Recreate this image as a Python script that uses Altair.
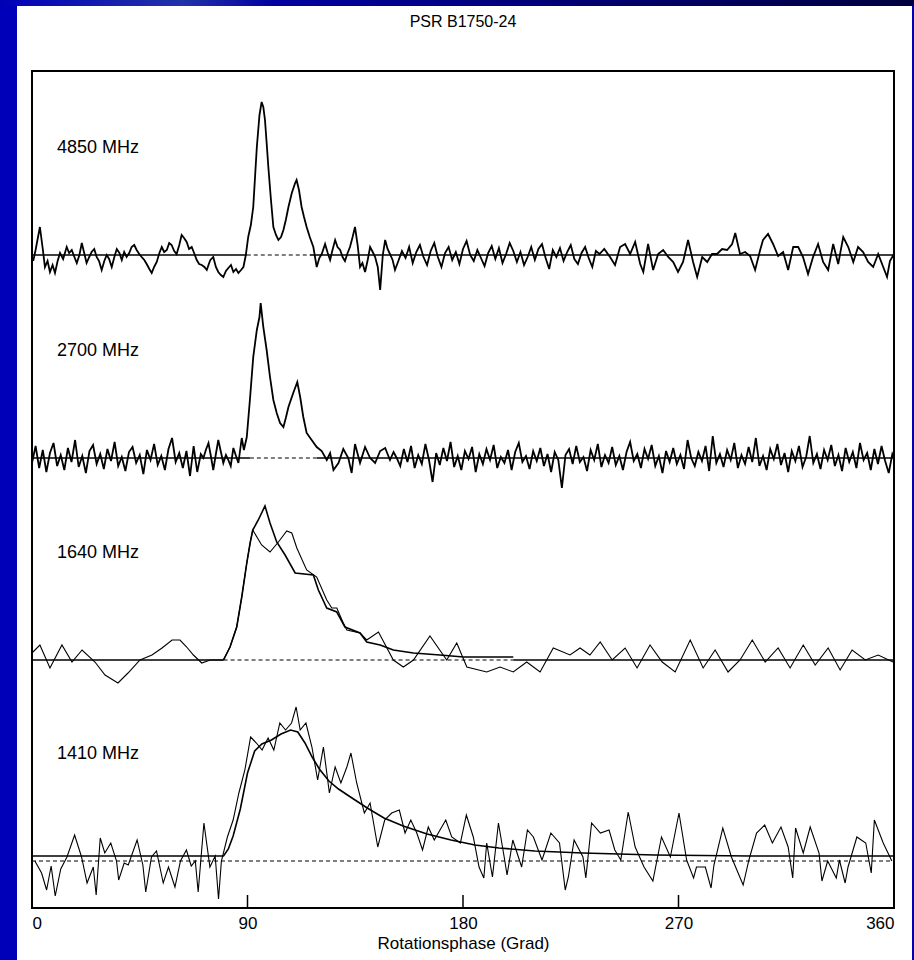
import altair as alt
import pandas as pd

# plot area size in pixels
W, H = 862, 837

# Pulse profiles of PSR B1750-24: (rotation phase in degrees, flux in arbitrary units)
profile_4850 = [
    (0.5, -6), (1.5, 5), (3.3, 28), (4.5, 6), (5.4, -12), (6.5, -6), (7.5, -17), (8.6, -10), (9.6, -18),
    (10.7, -6), (11.7, 2), (13, -4), (14.5, 8), (15.5, 2), (16.6, 5), (17.7, -2), (18.7, -8), (19.8, 0),
    (20.8, 12), (21.8, 2), (22.8, -8), (23.9, -2), (24.9, 3), (26, 6), (27, -2), (28, -6), (29.1, -15),
    (30.2, -6), (31.2, 0), (32.2, -4), (33.3, -12), (34.4, -2), (35.4, 6), (36.5, 2), (37.5, -5), (38.5, 3),
    (39.5, -2), (40.6, 2), (41.6, 8), (42.7, 10), (43.7, 5), (44.8, 1), (45.8, -2), (46.9, -5), (47.9, -9),
    (49, -14), (50, -18), (51, -12), (52.1, -7), (53.2, 2), (54.2, 8), (55.2, 3), (56.3, 5), (57.3, 12),
    (58.3, 10), (59.4, 4), (60.4, 1), (61.5, 10), (62.5, 20), (63.5, 17), (64.6, 13), (65.6, 6), (66.7, 8),
    (67.7, 2), (68.8, -5), (69.8, -9), (70.9, -10), (72, -12), (73, -15), (74, -8), (74.5, -5), (75.7, -2),
    (76.8, -12), (77.8, -17), (78.9, -20), (79.9, -22), (81, -16), (82, -13), (83.1, -10), (84.1, -17),
    (85.2, -14), (86.2, -18), (87.3, -15), (88.3, -12), (89.3, 0), (90.3, 18), (91.4, 30), (92.4, 48),
    (93.2, 80), (93.9, 108), (95, 140), (95.9, 153), (96.6, 148), (97.3, 135), (98, 112), (98.7, 88),
    (99.8, 55), (100.8, 28), (101.9, 20), (102.9, 15), (104, 18), (105, 25), (106, 35), (107.1, 48),
    (108.5, 62), (109.9, 72), (110.5, 75), (111.5, 65), (112.6, 48), (113.6, 38), (114.7, 28), (116, 18),
    (117.5, 8), (118.9, -12), (120, -3), (121, 1), (122.4, 11), (123.5, 2), (124.5, -5), (125.5, 5),
    (126.6, 15), (127.6, 8), (128.7, 5), (129.7, -2), (130.7, -6), (131.8, 2), (132.8, 8), (133.9, 18),
    (134.9, 28), (136, 10), (137, -12), (138, -8), (139.1, -17), (140.2, -5), (141.2, 8), (142.3, 3),
    (143.3, -2), (144.4, -12), (145.4, -35), (146.5, 0), (147.5, 15), (148.5, 6), (149.5, 1), (150.6, -5),
    (151.6, -15), (153, -6), (154.5, 4), (156, -3), (157.5, 8), (159, -8), (160.5, 3), (162, 10),
    (163.5, -2), (165, -10), (166.5, 4), (168, 12), (169.5, -2), (171, -12), (172.5, 2), (174, 8),
    (175.5, -5), (177, 3), (178.5, -9), (180, 6), (181.5, 14), (183, 0), (184.5, -6), (186, 5), (187.5, -3),
    (189, -11), (190.5, 2), (192, 9), (193.5, -4), (195, 7), (196.5, -8), (198, 1), (199.5, 12), (201, 4),
    (202.5, -7), (204, 3), (205.5, -10), (207, -2), (208.5, 8), (210, -5), (211.5, 6), (213, 11),
    (214.5, -3), (216, -14), (217.5, 5), (219, -2), (220.5, 7), (222, -6), (223.5, 3), (225, 10),
    (226.5, -4), (228, -9), (229.5, 2), (231, 8), (232.5, -3), (234, -12), (235.5, 4), (237, 1), (239, 6),
    (241.4, -2), (243.5, -10), (245.6, 8), (247.7, 11), (249.8, 1), (251.9, 13), (254, -9), (255.3, -17),
    (257.3, 11), (259.4, -15), (261.5, 1), (263.6, 5), (265.7, -2), (267.8, -7), (269.8, -17), (271.9, -7),
    (274, 15), (276.1, -7), (277.8, -22), (279.9, -2), (282, -7), (284, 1), (286.1, 1), (288.2, 6),
    (290.3, 5), (292.4, 11), (293.7, 22), (295.7, 1), (297.8, 3), (299.9, -1), (302, -15), (304.1, 5),
    (305.3, 15), (307.4, 21), (309.5, 11), (311.6, -1), (313.7, 3), (315.8, -15), (317.9, 8), (320, 8),
    (322, -2), (324.1, -19), (326.2, -2), (328.3, 11), (330.4, -7), (332.5, -15), (334.6, 11), (336.7, -9),
    (338.8, 18), (340.9, 8), (343, -7), (345, 8), (347.1, 3), (349.2, -7), (351.3, -12), (353.4, 1),
    (355.5, -12), (357.1, -22), (358.3, -6), (360, 1),
]

profile_2700 = [
    (0, -5), (1.5, 12), (3, -10), (4.5, 8), (6, -14), (7.5, 5), (9, 15), (10.5, -8), (12, 3), (13.5, -12),
    (15, 10), (16.5, -4), (18, 18), (19.5, -9), (21, 2), (22.5, -15), (24, 7), (25.5, 13), (27, -6),
    (28.5, 4), (30, -11), (31.5, 9), (33, -3), (34.5, 16), (36, -8), (37.5, 1), (39, -13), (40.5, 6),
    (42, 11), (43.5, -5), (45, 3), (46.5, -16), (48, 8), (49.5, -2), (51, 14), (52.5, -7), (54, 2),
    (55.5, -12), (57, 9), (58.5, 20), (60, -4), (61.5, 5), (63, -10), (64.5, 7), (66, -18), (67.5, 12),
    (69, -14), (70.5, 4), (71.6, 0), (72.6, 8), (73.7, 15), (74.7, 2), (75.7, -12), (76.8, 4), (77.8, 18),
    (78.9, 6), (79.9, -5), (81, 3), (82, -2), (83, -8), (84.1, 10), (85.2, 2), (86.2, -5), (87.6, 20),
    (88.5, 8), (89.7, 21), (91, 58), (92.4, 101), (93.9, 128), (95, 141), (95.5, 155), (96.6, 131),
    (98, 108), (99.4, 81), (100.8, 58), (102.2, 45), (103.6, 35), (105, 31), (106, 40), (107.1, 51),
    (109.1, 65), (110.8, 76), (112, 61), (113.3, 41), (114.7, 25), (116.8, 18), (118.9, 11), (121, 7),
    (123.1, -2), (124.5, 5), (125.9, -12), (128, -5), (130, 9), (132.1, 0), (133.5, -15), (134.9, 14),
    (137, -5), (139.1, 11), (141.2, 0), (143.3, -5), (145.4, 7), (147.5, 10), (149.5, -2), (151, 6),
    (152.3, 0), (153.8, -8), (155.3, 9), (156.8, -4), (158.3, 12), (159.8, -10), (161.3, 3), (162.8, -6),
    (164.3, 14), (165.8, -2), (167.3, -24), (168.8, 5), (170.3, -7), (171.8, 10), (173.3, -3), (174.8, 16),
    (176.3, -9), (177.8, 2), (179.3, -12), (180.8, 7), (182.3, -1), (183.8, 11), (185.3, -14), (186.8, 4),
    (188.3, -6), (189.8, 9), (191.3, -2), (192.8, 13), (194.3, -10), (195.8, 1), (197.3, -5), (198.8, 8),
    (200.3, -12), (201.8, 6), (203.3, 15), (204.8, -4), (206.3, 2), (207.8, -11), (209.3, 7), (210.8, -3),
    (212.3, 10), (213.8, -8), (215.3, 4), (216.8, -14), (218.3, 6), (219.8, -2), (221.3, -30), (222.8, 3),
    (224.3, 9), (225.8, -6), (227.3, 12), (228.8, -4), (230.3, 1), (231.8, -13), (233.3, 8), (234.8, -2),
    (236.3, 14), (237.8, -9), (239.3, 3), (240.8, -5), (242.3, 11), (243.8, -7), (245.3, 2), (246.8, -12),
    (248.3, 6), (249.8, 16), (251.3, -3), (252.8, 4), (254.3, -10), (255.8, 9), (257.3, -1), (258.8, 13),
    (260.3, -8), (261.8, 2), (263.3, -15), (264.8, 7), (266.3, -4), (267.8, 10), (269.3, -6), (270.8, 3),
    (272.3, -11), (273.8, 18), (275.3, 0), (276.8, -8), (278.3, 6), (279.8, -3), (281.3, 12), (282.8, -13),
    (284.3, 22), (285.8, -5), (287.3, 4), (288.8, -9), (290.3, 8), (291.8, -2), (293.3, 15), (294.8, -10),
    (296.3, 3), (297.8, -6), (299.3, 11), (300.8, -4), (302.3, 20), (303.8, -8), (305.3, 2), (306.8, -12),
    (308.3, 9), (309.8, -1), (311.3, 14), (312.8, -7), (314.3, 5), (315.8, -14), (317.3, 7), (318.8, -3),
    (320.3, 12), (321.8, -9), (323.3, 1), (324.8, 22), (326.3, -5), (327.8, 4), (329.3, -11), (330.8, 8),
    (332.3, -2), (333.8, 13), (335.3, -8), (336.8, 3), (338.3, -13), (339.8, 10), (341.3, -4), (342.8, 6),
    (344.3, -10), (345.8, 15), (347.3, -2), (348.8, 5), (350.3, -12), (351.8, 9), (353.3, -6), (354.8, 12),
    (356.3, -3), (357.8, -15), (359.3, 4), (360, 0),
]

profile_1640 = [
    (0.4, 8), (3.3, 15), (7.5, -8), (12.5, 15), (16.7, -2), (20.9, 10), (26.3, -2), (30.5, -15),
    (35.9, -23), (40.1, -13), (45.1, 0), (50.1, 5), (54.3, 12), (58.5, 20), (61.8, 20), (64.6, 13),
    (67.4, 5), (70.9, -3), (74.4, 0), (79.9, 0), (82.7, 13), (85.5, 33), (87.6, 63), (89.7, 97),
    (91.1, 117), (92.2, 130), (95.9, 115), (99.4, 108), (102.9, 118), (106.4, 129), (108.5, 127),
    (110.6, 112), (114.7, 90), (118.9, 83), (123.1, 60), (125.2, 52), (127.3, 52), (130, 37), (131.5, 30),
    (137, 27), (139.8, 20), (144.7, 28), (150.9, 0), (155.1, -7), (159.3, 0), (166.2, 24), (173.2, 0),
    (177.4, 17), (181.6, -7), (189.9, -12), (195.5, -7), (201, -12), (206.6, -2), (212.2, -12),
    (217.7, 12), (224.7, 5), (228.9, 12), (233, 5), (237.3, 18), (242.3, 0), (247.7, 12), (252.7, -8),
    (258.1, 15), (263.2, -2), (268.6, -12), (274.9, 20), (280.3, -8), (285.3, 10), (290.7, -12),
    (295.7, 0), (300.8, 20), (306.2, -2), (311.6, 12), (316.6, -8), (322.1, 15), (327.1, -5), (332.5, 12),
    (337.5, -10), (342.5, 10), (348, 0), (353.4, 5), (359.6, -2),
]

profile_1410 = [
    (1.2, 0), (4, -12), (6.1, -29), (8, -5), (9.7, -35), (12, -8), (14.6, 4), (17.8, 26), (20.7, 4),
    (23, -22), (25.6, -6), (26.8, -34), (28.5, 23), (30.4, 8), (32.9, 18), (35.3, 0), (36.2, -19),
    (38.5, -2), (40.2, -4), (43.9, 21), (46.3, -4), (47.5, -31), (49.9, 4), (52, 10), (54.8, -22),
    (57, -6), (59.7, -26), (62, 0), (64.5, 11), (66.5, -5), (68.2, 0), (69.4, -31), (71.8, 38),
    (74.3, -6), (76.5, 5), (77.9, -38), (79.1, 0), (81.6, 24), (84, 41), (86.4, 68), (88.9, 91),
    (91.3, 124), (93.7, 118), (96.1, 111), (98.6, 123), (101, 111), (103.5, 138), (105.9, 131),
    (108.4, 138), (110.3, 154), (112, 131), (114.4, 138), (116.9, 114), (119.3, 81), (121.7, 114),
    (124.2, 68), (126.6, 94), (129, 78), (131.5, 94), (133.2, 108), (135.6, 78), (138.8, 48), (141.2, 58),
    (144.4, 14), (147.3, 41), (150.2, 48), (153.4, 51), (155.8, 28), (158.2, 41), (160.7, 28), (163.1, 11),
    (165.5, 34), (168, 21), (170.4, 31), (172.8, 41), (175.3, 24), (178.9, 18), (181.4, 46), (184.3, 24),
    (186.7, -6), (188.7, -17), (189.9, 18), (192.3, -16), (194.8, 38), (197.2, 4), (198.4, -14),
    (200.8, 21), (204.5, -6), (206.9, 31), (209.4, 24), (213, 1), (216.7, 28), (220.3, 18), (222.7, -29),
    (224, -16), (226.4, 21), (230.1, 4), (231.3, -17), (233.7, 38), (237.4, 28), (241, 31), (243.4, 11),
    (245.9, 1), (249, 49), (251.9, 14), (255.6, -6), (259.3, -20), (262.9, 24), (266.6, 4), (270.2, 48),
    (273.4, 1), (276.3, -17), (277.5, -6), (281.2, -6), (283.6, -27), (284.8, -4), (288.5, 33), (292.1, 4),
    (297, -24), (299.4, 1), (302.6, 28), (306, 36), (309.2, 18), (312.8, 34), (315.8, 14), (317.7, -17),
    (318.9, 33), (322.1, 8), (325, 34), (328.7, 8), (329.9, -20), (332.3, 0), (335.9, -17), (337.2, 1),
    (339.6, -22), (340.8, -6), (344.5, 24), (348.2, 18), (350.5, -12), (351.8, 41), (355.5, 18), (359.1, 0),
]

# Scattering-tail model fits
fit_1640 = [
    (80, 0), (82.7, 13), (85.5, 33), (87.6, 63), (89.7, 97), (91.1, 117), (92.2, 130), (94.5, 140),
    (97.3, 154), (99.4, 137), (102.2, 118), (105.7, 105), (109.9, 87), (117.5, 85), (119.6, 70),
    (123.1, 52), (127.3, 48), (130.7, 33), (137, 27), (139.8, 18), (145.4, 15), (150.9, 10), (159.3, 7),
    (170.4, 5), (180.2, 3), (201, 3),
]
fit_1410 = [
    (0, 5), (80, 5), (82, 12), (84, 25), (87, 52), (90, 88), (93, 110), (96, 117), (100, 121), (104, 127),
    (108, 131), (111, 129), (114, 118), (117, 104), (120, 92), (124, 80), (128, 72), (133, 64), (140, 53),
    (147, 43), (155, 35), (165, 27), (175, 21), (185, 16), (195, 13), (210, 10), (230, 8), (260, 6),
    (300, 5), (360, 5),
]

# zero-level stretches: solid where the model sits on the baseline, dashed under the pulse
baseline_solid = {
    "4850 MHz": [(0, 89.7), (116, 360)],
    "2700 MHz": [(0, 91), (119, 360)],
    "1640 MHz": [(0, 80), (201, 360)],
}
baseline_dashed = {
    "4850 MHz": [(89.7, 116)],
    "2700 MHz": [(91, 119)],
    "1640 MHz": [(80, 201)],
    "1410 MHz": [(0, 360)],
}

frequencies = ["4850 MHz", "2700 MHz", "1640 MHz", "1410 MHz"]
phase_ticks = [0, 90, 180, 270, 360]
title_text = "PSR B1750-24"

# vertical stacking of the four profiles (zero level of each panel on the y scale)
panel_zero = {"4850 MHz": 653, "2700 MHz": 450, "1640 MHz": 248, "1410 MHz": 47}
label_lift = 107

profiles = {"4850 MHz": profile_4850, "2700 MHz": profile_2700,
            "1640 MHz": profile_1640, "1410 MHz": profile_1410}
fits = {"1640 MHz": fit_1640, "1410 MHz": fit_1410}


def to_frame(series):
    rows = []
    for name, pts in series.items():
        for order, (ph, fl) in enumerate(pts):
            rows.append({"panel": name, "order": order, "phase": ph, "level": fl + panel_zero[name]})
    return pd.DataFrame(rows)


def segments(spec):
    rows = []
    for name, spans in spec.items():
        for a, b in spans:
            rows.append({"panel": name, "start": a, "end": b, "level": panel_zero[name]})
    return pd.DataFrame(rows)


data_df = to_frame(profiles)
fit_df = to_frame(fits)
solid_df = segments(baseline_solid)
dashed_df = segments(baseline_dashed)
label_df = pd.DataFrame({"panel": frequencies, "phase": [10.4] * 4,
                         "level": [panel_zero[f] + label_lift for f in frequencies]})
tick_df = pd.DataFrame({"phase": phase_ticks[1:-1]})
one = pd.DataFrame({"k": [0]})
title_df = pd.DataFrame({"text": [title_text]})

FONT = "Liberation Sans"

x_scale = alt.Scale(domain=[0, 360], nice=False, zero=False)
y_scale = alt.Scale(domain=[0, H], nice=False, zero=False)
x_axis = alt.Axis(values=phase_ticks, format="d", title="Rotationsphase (Grad)", ticks=False,
                  domain=False, grid=False, labelFont=FONT, labelFontSize=17, labelColor="black",
                  labelPadding=7, titleFont=FONT, titleFontSize=17, titleFontWeight="normal",
                  titleColor="black", titlePadding=4, zindex=2)


def X(field):
    return alt.X(field, type="quantitative", scale=x_scale, axis=x_axis)


def Y(field):
    return alt.Y(field, type="quantitative", scale=y_scale, axis=None)


# white page with the slide frame around it
sheet = alt.Chart(one).mark_rect(fill="white").encode(
    x=alt.value(-15), x2=alt.value(W + 18), y=alt.value(-65), y2=alt.value(H + 52))
strip = alt.Chart(one).mark_rect(
    fill=alt.LinearGradient(gradient="linear", x1=0, x2=1, y1=0, y2=0,
                            stops=[alt.GradientStop(color="#0000b8", offset=0),
                                   alt.GradientStop(color="#2233a8", offset=0.2),
                                   alt.GradientStop(color="#0000a0", offset=0.3),
                                   alt.GradientStop(color="#000040", offset=1)])
).encode(x=alt.value(-32), x2=alt.value(W + 20), y=alt.value(-71), y2=alt.value(-65))

heading = alt.Chart(title_df).mark_text(
    align="center", baseline="middle", font=FONT, fontSize=16, color="black"
).encode(x=alt.value(W / 2), y=alt.value(-49), text="text:N")

solid = alt.Chart(solid_df).mark_rule(color="black", strokeWidth=1.5).encode(
    x=X("start"), x2="end", y=Y("level"))
dashed = alt.Chart(dashed_df).mark_rule(color="black", strokeWidth=1.2, strokeDash=[4, 3]).encode(
    x=X("start"), x2="end", y=Y("level"))

bold_lines = alt.Chart(data_df).transform_filter(
    alt.FieldOneOfPredicate(field="panel", oneOf=["4850 MHz", "2700 MHz"])
).mark_line(color="black", strokeWidth=1.8, strokeJoin="miter").encode(
    x=X("phase"), y=Y("level"), detail="panel:N", order="order:Q")
thin_lines = alt.Chart(data_df).transform_filter(
    alt.FieldOneOfPredicate(field="panel", oneOf=["1640 MHz", "1410 MHz"])
).mark_line(color="black", strokeWidth=1.1).encode(
    x=X("phase"), y=Y("level"), detail="panel:N", order="order:Q")
fit_lines = alt.Chart(fit_df).mark_line(color="black", strokeWidth=1.6).encode(
    x=X("phase"), y=Y("level"), detail="panel:N", order="order:Q")

ticks = alt.Chart(tick_df).mark_rule(color="black", strokeWidth=1.5).encode(
    x=X("phase"), y=alt.value(H), y2=alt.value(H - 13))

labels = alt.Chart(label_df).mark_text(
    align="left", baseline="middle", font=FONT, fontSize=18, color="black"
).encode(x=X("phase"), y=Y("level"), text="panel:N")

frame = alt.Chart(one).mark_rect(fillOpacity=0, stroke="black", strokeWidth=2).encode(
    x=alt.value(0), x2=alt.value(W), y=alt.value(0), y2=alt.value(H))

chart = alt.layer(
    sheet, strip, heading, solid, dashed, bold_lines, thin_lines, fit_lines, ticks, labels, frame
).properties(
    width=W, height=H,
    background="#0000b8",
    padding={"left": 32, "top": 71, "right": 20, "bottom": 52},
    autosize=alt.AutoSizeParams(type="none"),
).configure_view(stroke=None)

chart.save("out.html", embed_options={"renderer": "svg", "actions": False})
